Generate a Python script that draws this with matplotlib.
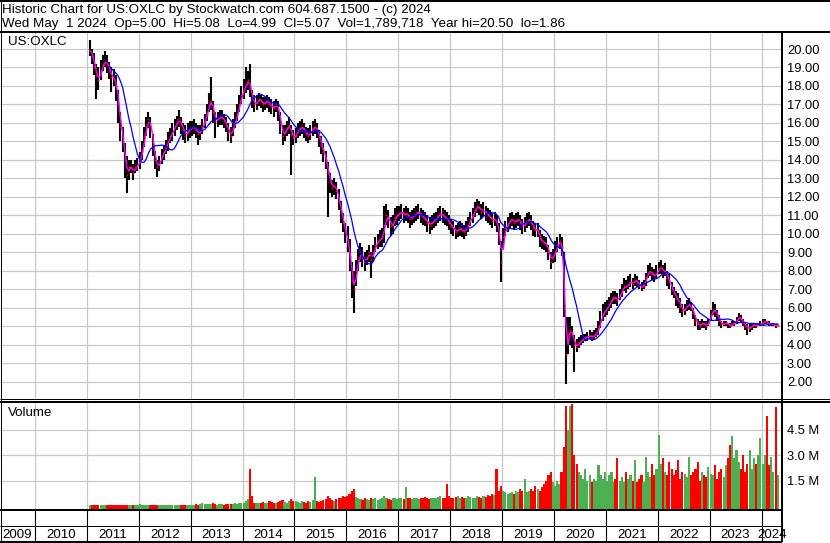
import numpy as np
import pandas as pd
import matplotlib
matplotlib.use('Agg')
import matplotlib.pyplot as plt
from matplotlib.lines import Line2D

plt.rcParams['font.family'] = ['Liberation Sans', 'DejaVu Sans']

# half-month periods, 2011-01 (second half) .. 2024-04
# close / high / low
close = [
    19.9, 19.6, 19.0, 18.6, 18.3, 18.8, 19.2, 19.3, 19.2, 18.8, 18.5, 18.4, 18.0, 17.0, 15.8, 15.2, 14.0, 13.2, 13.6, 13.6, 13.3, 13.6, 13.7,
    14.0, 14.5, 15.3, 15.8, 16.2, 15.8, 14.8, 14.0, 13.6, 13.8, 14.2, 14.4, 14.7, 15.0, 15.3, 15.5, 15.8, 16.0, 16.2, 15.9, 15.6, 15.3, 15.5, 15.7,
    15.7, 15.8, 15.6, 15.4, 15.5, 15.8, 16.1, 16.5, 17.0, 17.2, 16.6, 16.1, 16.2, 16.3, 16.3, 16.1, 15.9, 15.5, 15.3, 15.7, 16.1, 16.5, 17.0, 17.5,
    17.8, 18.1, 18.3, 17.9, 17.3, 17.0, 17.1, 17.3, 17.2, 17.0, 17.1, 17.2, 17.0, 16.9, 16.8, 17.0, 16.7, 16.0, 15.3, 15.5, 15.7, 15.9, 15.4, 15.2,
    15.3, 15.6, 15.7, 15.8, 15.6, 15.4, 15.3, 15.5, 15.7, 15.8, 15.6, 15.2, 14.8, 14.4, 14.0, 13.3, 12.8, 12.5, 12.6, 12.3, 11.8, 11.2, 10.6, 10.1,
    9.5, 8.8, 7.5, 7.0, 8.0, 8.6, 9.0, 8.7, 8.5, 8.7, 9.0, 8.6, 9.0, 9.4, 9.6, 9.7, 9.8, 10.5, 11.0, 10.8, 10.4, 10.5, 10.9, 11.0,
    11.1, 11.2, 11.0, 11.1, 11.0, 10.8, 10.9, 11.0, 11.1, 11.2, 11.0, 10.9, 10.8, 10.6, 10.5, 10.6, 10.7, 10.8, 11.0, 11.1, 11.0, 10.9, 10.8, 10.6,
    10.4, 10.3, 10.1, 10.2, 10.3, 10.2, 10.1, 10.3, 10.5, 10.8, 11.0, 11.3, 11.5, 11.4, 11.2, 11.3, 11.1, 11.0, 10.9, 10.7, 10.8, 10.6, 10.0, 8.5,
    9.8, 10.3, 10.5, 10.7, 10.8, 10.6, 10.7, 10.8, 10.6, 10.4, 10.5, 10.7, 10.8, 10.6, 10.3, 10.2, 10.2, 9.7, 9.6, 9.5, 9.4, 9.0, 8.5, 8.8,
    9.0, 9.4, 9.6, 9.3, 7.0, 3.5, 4.5, 4.8, 4.5, 4.0, 3.9, 4.1, 4.2, 4.3, 4.4, 4.4, 4.5, 4.4, 4.5, 4.6, 4.9, 5.3, 5.7, 5.8,
    6.0, 6.2, 6.4, 6.6, 6.5, 6.4, 6.7, 6.9, 7.2, 7.1, 7.3, 7.4, 7.3, 7.5, 7.4, 7.2, 7.1, 7.2, 7.6, 7.9, 8.0, 7.8, 7.7, 7.9,
    8.1, 8.2, 7.9, 8.0, 7.6, 7.4, 7.0, 6.8, 6.5, 6.4, 6.1, 5.8, 5.9, 6.1, 6.2, 6.0, 5.7, 5.3, 5.1, 5.0, 5.2, 5.1, 5.0, 5.2,
    5.6, 5.9, 5.8, 5.6, 5.3, 5.1, 5.1, 5.2, 5.1, 5.0, 5.1, 5.2, 5.3, 5.5, 5.4, 5.2, 5.0, 4.9, 4.9, 5.0, 5.1, 5.0, 5.1, 5.1,
    5.2, 5.3, 5.2, 5.1, 5.1, 5.1, 5.0, 5.07,
]
high = [
    20.5, 20.0, 19.8, 19.2, 19.0, 19.4, 19.7, 19.9, 19.7, 19.3, 19.0, 18.9, 18.6, 17.8, 16.6, 15.8, 14.9, 14.2, 14.0, 14.0, 13.8, 14.0, 14.1,
    14.4, 15.0, 15.8, 16.3, 16.6, 16.3, 15.4, 14.5, 14.0, 14.2, 14.6, 14.8, 15.1, 15.5, 15.7, 16.0, 16.2, 16.4, 16.7, 16.3, 16.0, 15.9, 16.0, 16.1,
    16.1, 16.2, 16.0, 15.9, 15.9, 16.2, 16.5, 17.0, 17.6, 18.5, 17.2, 16.6, 16.6, 16.7, 16.7, 16.5, 16.3, 16.0, 15.8, 16.2, 16.6, 17.0, 17.5, 18.0,
    18.4, 19.0, 18.8, 19.2, 17.8, 17.5, 17.5, 17.6, 17.5, 17.4, 17.4, 17.5, 17.4, 17.3, 17.2, 17.3, 17.2, 16.6, 15.9, 15.9, 16.1, 16.3, 15.9, 15.6,
    15.7, 16.0, 16.1, 16.2, 16.0, 15.8, 15.7, 15.9, 16.1, 16.2, 16.0, 15.6, 15.3, 14.9, 14.5, 13.9, 13.3, 12.9, 13.0, 12.8, 12.4, 11.8, 11.1, 10.6,
    10.4, 9.7, 8.5, 8.0, 8.6, 9.2, 9.5, 9.3, 9.0, 9.1, 9.4, 9.0, 9.4, 9.8, 10.0, 10.2, 10.3, 11.5, 11.6, 11.3, 10.9, 11.0, 11.4, 11.5,
    11.5, 11.6, 11.4, 11.5, 11.4, 11.2, 11.3, 11.4, 11.5, 11.6, 11.4, 11.3, 11.2, 11.0, 10.9, 11.0, 11.1, 11.2, 11.4, 11.5, 11.4, 11.3, 11.2, 11.0,
    10.8, 10.7, 10.5, 10.6, 10.7, 10.6, 10.5, 10.7, 10.9, 11.2, 11.4, 11.7, 11.9, 11.8, 11.6, 11.7, 11.5, 11.4, 11.3, 11.1, 11.2, 11.0, 10.6, 9.6,
    10.3, 10.7, 10.9, 11.1, 11.2, 11.0, 11.1, 11.2, 11.0, 10.8, 10.9, 11.1, 11.2, 11.0, 10.7, 10.6, 10.6, 10.2, 10.0, 9.9, 9.8, 9.4, 9.0, 9.2,
    9.6, 9.8, 10.0, 9.8, 9.0, 5.5, 5.5, 5.5, 5.0, 4.5, 4.3, 4.4, 4.5, 4.6, 4.6, 4.7, 4.8, 4.7, 4.8, 4.9, 5.3, 5.8, 6.2, 6.3,
    6.4, 6.6, 6.8, 6.9, 6.9, 6.8, 7.0, 7.3, 7.6, 7.5, 7.7, 7.8, 7.6, 7.8, 7.7, 7.5, 7.4, 7.5, 7.9, 8.3, 8.4, 8.2, 8.1, 8.3,
    8.5, 8.6, 8.3, 8.4, 8.0, 7.8, 7.4, 7.1, 6.9, 6.8, 6.5, 6.2, 6.2, 6.4, 6.5, 6.3, 6.0, 5.6, 5.4, 5.3, 5.4, 5.3, 5.3, 5.4,
    5.9, 6.3, 6.2, 5.9, 5.6, 5.3, 5.3, 5.3, 5.2, 5.2, 5.3, 5.3, 5.5, 5.7, 5.6, 5.4, 5.2, 5.1, 5.1, 5.2, 5.2, 5.2, 5.2, 5.3,
    5.4, 5.4, 5.3, 5.3, 5.2, 5.2, 5.1, 5.08,
]
low = [
    19.6, 19.2, 18.6, 17.3, 17.8, 18.3, 18.8, 19.0, 18.7, 18.4, 17.7, 18.0, 17.2, 16.0, 15.0, 14.4, 13.0, 12.2, 12.9, 13.3, 12.9, 13.3, 13.4,
    13.5, 14.0, 14.7, 15.3, 15.7, 15.2, 14.2, 13.5, 13.1, 13.4, 13.8, 14.0, 14.3, 14.5, 14.9, 15.0, 15.3, 15.6, 15.8, 15.4, 15.1, 14.9, 15.0, 15.2,
    15.3, 15.4, 15.2, 14.8, 15.1, 15.4, 15.7, 16.1, 16.6, 16.7, 16.0, 15.2, 15.8, 15.9, 15.9, 15.7, 15.5, 15.0, 14.9, 15.3, 15.7, 16.1, 16.6, 17.0,
    17.3, 17.6, 17.8, 17.4, 16.8, 16.6, 16.7, 16.9, 16.8, 16.6, 16.7, 16.8, 16.6, 16.5, 16.3, 16.6, 16.1, 15.4, 14.8, 15.0, 15.3, 15.4, 13.2, 14.8,
    14.9, 15.2, 15.3, 15.4, 15.2, 15.0, 14.9, 15.1, 15.3, 15.4, 15.2, 14.7, 14.3, 13.9, 13.5, 10.9, 12.2, 12.0, 12.1, 11.9, 11.3, 10.6, 10.1, 9.5,
    9.0, 8.0, 6.5, 5.7, 7.2, 8.0, 8.5, 8.2, 8.0, 8.3, 8.5, 7.6, 8.5, 9.0, 9.2, 9.3, 9.3, 9.5, 10.5, 10.3, 9.9, 10.0, 10.4, 10.5,
    10.7, 10.8, 10.6, 10.7, 10.6, 10.3, 10.5, 10.6, 10.7, 10.8, 10.6, 10.5, 10.4, 10.1, 10.0, 10.2, 10.3, 10.4, 10.6, 10.7, 10.6, 10.5, 10.4, 10.2,
    10.0, 9.9, 9.7, 9.8, 9.9, 9.8, 9.7, 9.9, 10.1, 10.4, 10.6, 10.9, 11.1, 11.0, 10.8, 10.9, 10.7, 10.6, 10.5, 10.3, 10.4, 10.1, 9.4, 7.4,
    9.2, 9.9, 10.1, 10.3, 10.4, 10.2, 10.3, 10.4, 10.2, 10.0, 10.1, 10.3, 10.4, 10.2, 9.9, 9.8, 9.8, 9.3, 9.2, 9.1, 9.0, 8.6, 8.1, 8.4,
    8.5, 9.0, 9.2, 8.8, 5.5, 1.86, 3.5, 4.0, 3.8, 2.5, 3.6, 3.8, 4.0, 4.1, 4.2, 4.2, 4.3, 4.2, 4.3, 4.4, 4.5, 4.9, 5.3, 5.5,
    5.6, 5.8, 6.0, 6.2, 6.2, 6.1, 6.4, 6.6, 6.9, 6.8, 7.0, 7.1, 7.0, 7.2, 7.1, 7.0, 6.9, 7.0, 7.2, 7.6, 7.7, 7.5, 7.4, 7.6,
    7.8, 7.8, 7.6, 7.7, 7.2, 7.0, 6.7, 6.5, 6.1, 6.0, 5.7, 5.5, 5.6, 5.8, 5.9, 5.8, 5.4, 5.0, 4.8, 4.8, 4.9, 4.9, 4.8, 5.0,
    5.3, 5.6, 5.5, 5.3, 5.0, 4.9, 5.0, 5.0, 4.9, 4.9, 5.0, 5.0, 5.1, 5.3, 5.2, 5.0, 4.8, 4.5, 4.7, 4.8, 4.9, 4.9, 5.0, 5.0,
    5.0, 5.1, 5.1, 5.0, 5.0, 5.0, 4.9, 4.99,
]
# volume, millions of shares
volume = [
    0.06, 0.05, 0.04, 0.04, 0.05, 0.04, 0.04, 0.05, 0.04, 0.04, 0.05, 0.04, 0.06, 0.07, 0.06, 0.05, 0.05, 0.04, 0.04, 0.05, 0.04, 0.05, 0.04,
    0.10, 0.05, 0.04, 0.05, 0.04, 0.05, 0.06, 0.05, 0.04, 0.05, 0.04, 0.05, 0.05, 0.04, 0.05, 0.06, 0.05, 0.04, 0.05, 0.06, 0.05, 0.05, 0.06, 0.05,
    0.06, 0.08, 0.10, 0.08, 0.12, 0.15, 0.10, 0.09, 0.12, 0.10, 0.15, 0.12, 0.08, 0.10, 0.09, 0.08, 0.10, 0.12, 0.10, 0.09, 0.15, 0.12, 0.20, 0.15,
    0.20, 0.30, 0.40, 2.15, 0.60, 0.20, 0.15, 0.18, 0.20, 0.25, 0.15, 0.20, 0.30, 0.22, 0.18, 0.20, 0.25, 0.30, 0.35, 0.25, 0.20, 0.30, 0.40, 0.30,
    0.30, 0.25, 0.20, 0.30, 0.25, 0.20, 0.30, 0.25, 0.35, 1.70, 0.30, 0.25, 0.30, 0.35, 0.40, 0.60, 0.45, 0.35, 0.30, 0.40, 0.45, 0.50, 0.60, 0.55,
    0.60, 0.70, 0.90, 1.00, 0.55, 0.45, 0.40, 0.35, 0.45, 0.40, 0.35, 0.50, 0.40, 0.45, 0.35, 0.40, 0.50, 0.60, 0.45, 0.40, 0.35, 0.50, 0.45, 0.40,
    0.45, 0.50, 0.40, 1.10, 0.45, 0.50, 0.40, 0.50, 0.45, 0.40, 0.50, 0.45, 0.55, 0.50, 0.40, 0.45, 0.50, 0.45, 0.55, 0.60, 0.50, 0.45, 1.30, 0.60,
    0.50, 0.45, 0.55, 0.60, 0.50, 0.55, 0.45, 0.50, 0.60, 0.55, 0.50, 0.45, 0.60, 0.55, 0.50, 0.60, 0.55, 0.65, 0.60, 0.70, 0.65, 2.20, 0.90, 1.20,
    0.90, 0.80, 0.70, 0.75, 0.80, 0.70, 0.90, 0.80, 1.00, 0.90, 1.60, 0.80, 0.90, 1.00, 0.90, 1.20, 1.00, 0.90, 1.10, 1.30, 1.50, 1.80, 2.00, 1.40,
    1.20, 1.50, 1.30, 2.00, 3.50, 5.90, 4.50, 5.90, 6.00, 3.00, 2.50, 2.00, 1.80, 1.60, 2.20, 1.50, 1.80, 1.40, 1.60, 1.50, 2.40, 1.80, 1.60, 2.00,
    1.50, 1.80, 2.00, 1.40, 1.60, 2.80, 1.50, 1.70, 1.40, 2.00, 1.60, 1.80, 1.50, 2.70, 1.40, 1.60, 1.80, 1.40, 2.90, 2.00, 1.70, 2.50, 1.80, 2.20,
    4.20, 2.50, 2.80, 2.00, 1.80, 2.60, 2.20, 1.80, 2.10, 2.70, 1.60, 2.00, 1.90, 1.70, 2.90, 1.80, 2.00, 2.20, 2.60, 1.50, 2.00, 1.80, 1.70, 2.30,
    1.90, 1.80, 2.40, 1.60, 2.00, 2.20, 1.70, 2.40, 2.80, 3.60, 4.10, 2.80, 3.30, 2.60, 2.20, 3.00, 2.00, 2.50, 3.30, 2.20, 2.80, 2.50, 3.00, 4.00,
    2.50, 3.00, 5.30, 2.40, 2.90, 2.00, 5.80, 1.80,
]

price_ticks = list(range(2, 21))
vol_ticks = [1.5, 3.0, 4.5]
vol_labels = ['1.5 M', '3.0 M', '4.5 M']
years = list(range(2009, 2025))

header1 = 'Historic Chart for US:OXLC by Stockwatch.com 604.687.1500 - (c) 2024'
header2 = 'Wed May  1 2024  Op=5.00  Hi=5.08  Lo=4.99  Cl=5.07  Vol=1,789,718  Year hi=20.50  lo=1.86'

W, H = 830, 543
FS = 9.3
HFS = 9.6
GRID = '#c8c8c8'

dates = pd.date_range('2011-01-15', '2024-04-15', freq='SMS')
t = np.asarray(dates.year + (dates.dayofyear + 7) / 365.25)
close_s = pd.Series(close)
ma_short = close_s.rolling(2, min_periods=1).mean()   # ~20 day
ma_long = close_s.rolling(10).mean()                  # ~100 day

x0, x1 = 2009.326, 2024.393


def box(left, top, right, bottom):
    return [left / W, 1 - bottom / H, (right - left) / W, (bottom - top) / H]


def pxline(xa, ya, xb, yb, lw=1.0):
    fig.add_artist(Line2D([xa / W, xb / W], [1 - ya / H, 1 - yb / H],
                          transform=fig.transFigure, color='black', lw=lw * 0.72,
                          solid_capstyle='butt'))


fig = plt.figure(figsize=(W / 100, H / 100), dpi=100)
fig.patch.set_facecolor('white')

ax = fig.add_axes(box(0, 32, 782, 399))
axv = fig.add_axes(box(0, 402, 782, 509))
axs = fig.add_axes(box(0, 510, 782, 542))

for a in (ax, axv, axs):
    for sp in a.spines.values():
        sp.set_visible(False)
    a.set_xlim(x0, x1)
    a.set_xticks(range(2010, 2025))
    a.tick_params(axis='x', length=0, labelbottom=False)

# price panel
ax.set_ylim(20 - 350 / 18.48, 20 + 17 / 18.48)
ax.set_yticks(price_ticks)
ax.set_yticklabels([f'{p:.2f}' for p in price_ticks])
ax.yaxis.tick_right()
ax.tick_params(axis='y', length=0, pad=3.6, labelsize=FS)
ax.grid(True, color=GRID, lw=0.9)
ax.set_axisbelow(True)
ax.vlines(t, low, high, color='black', lw=1.5, zorder=2)
ax.plot(t, close, ls='none', marker='s', ms=1.3, mew=0, color='red', zorder=3)
ax.plot(t, ma_short, color='#ff00ff', lw=1.0, zorder=4)
ax.plot(t, ma_long, color='#0000ff', lw=0.9, zorder=5)
ax.text(8 / 782, 1 - 10 / 367, 'US:OXLC', transform=ax.transAxes, fontsize=HFS,
        va='center', ha='left')

# volume panel
v0 = 506
vmin, vmax = -(509 - v0) / 17, (v0 - 402) / 17
axv.set_ylim(vmin, vmax)
axv.set_yticks(vol_ticks)
axv.set_yticklabels(vol_labels)
axv.yaxis.tick_right()
axv.tick_params(axis='y', length=0, pad=3.6, labelsize=FS)
axv.grid(True, color=GRID, lw=0.9)
axv.set_axisbelow(True)
chg = np.diff(np.r_[close[0], close])
vcol = ['#ff0000' if c < 0 else '#4caf50' for c in chg]
vol = np.array(volume)
axv.bar(t, vol - vmin, bottom=vmin, width=1 / 24, color=vcol, lw=0, zorder=2)
axv.text(8 / 782, 1 - 11 / 107, 'Volume', transform=axv.transAxes, fontsize=HFS,
         va='center', ha='left')

# year strip
axs.set_ylim(0, 2)
axs.set_yticks([])
axs.vlines(range(2010, 2025), 0, 2, color='black', lw=0.8)
for y in years:
    a, b = max(y, x0), min(y + 1, x1)
    axs.text((a + b) / 2, 0.45, str(y), ha='center', va='center', fontsize=HFS,
             clip_on=False)

# frame lines
pxline(0, 0.5, W, 0.5, 2)
pxline(0.5, 0, 0.5, 542, 1)
pxline(W - 0.5, 0, W - 0.5, 32, 1)
pxline(0, 31.5, W, 31.5, 2)
pxline(782, 31, 782, 542, 2)
pxline(0, 399, W, 399, 1)
pxline(0, 401.5, W, 401.5, 2)
pxline(0, 509.5, 782, 509.5, 2)
pxline(0, 526, 782, 526, 1)
pxline(0, 541.5, 782, 541.5, 2)

fig.text(2 / W, 1 - 10 / H, header1, fontsize=HFS, va='center', ha='left')
fig.text(2 / W, 1 - 24 / H, header2, fontsize=HFS, va='center', ha='left')

fig.savefig('out.png', dpi=100)
